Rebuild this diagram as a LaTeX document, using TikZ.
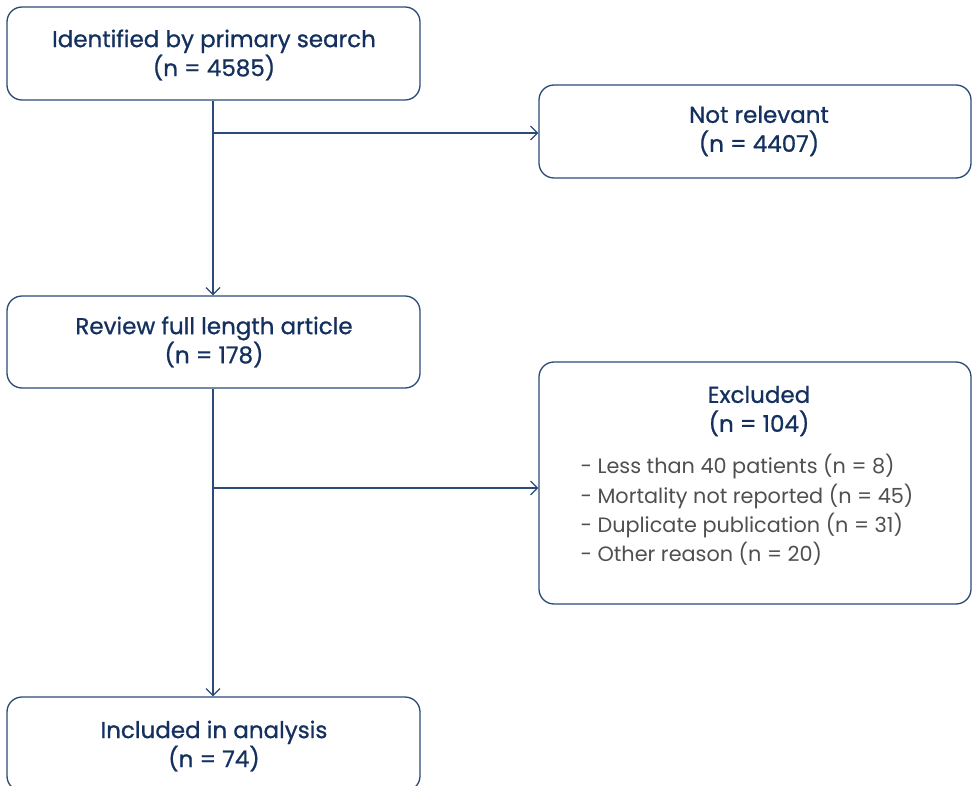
\documentclass[tikz,border=0pt]{standalone}
\usepackage{fontspec}
\setmainfont{Poppins}
\newfontfamily\titlefont[FakeBold=0.9]{Poppins}
\usetikzlibrary{arrows.meta}
\definecolor{navy}{HTML}{14305E}
\definecolor{edge}{HTML}{2A4A78}
\definecolor{listgray}{HTML}{4F4F4F}
\tikzset{
  box/.style={draw=edge, line width=1.3pt, rounded corners=15pt, inner sep=0pt},
  title/.style={text=navy, font=\titlefont\fontsize{23}{29}\selectfont, align=center},
  item/.style={text=listgray, font=\fontsize{20.8}{29.2}\selectfont, align=left, anchor=north west},
  conn/.style={draw=edge, line width=1.2pt, -{Straight Barb[length=7pt,width=14pt,line width=1.2pt]}},
}
\begin{document}
\begin{tikzpicture}[x=1pt,y=-1pt]
\useasboundingbox (0,0) rectangle (972,786);
\begin{scope}
\clip (0,0) rectangle (972,786);
\node[box, minimum width=413pt, minimum height=93pt] (b1) at (213.5,53.5) {};
\node[box, minimum width=432pt, minimum height=93pt] (b2) at (755,131.5) {};
\node[box, minimum width=413pt, minimum height=92pt] (b3) at (213.5,342) {};
\node[box, minimum width=432pt, minimum height=242pt] (b4) at (755,483) {};
\node[box, minimum width=413pt, minimum height=94pt] (b5) at (213.5,744) {};
\end{scope}
\node[title] (t1) at (214,55) {Identified by primary search\\(n = 4585)};
\node[title] (t2) at (759,131) {Not relevant\\(n = 4407)};
\node[title] (t3) at (214,342) {Review full length article\\(n = 178)};
\node[title] (t4) at (759,411) {Excluded\\(n = 104)};
\node[item] (t4l) at (577,451) {- Less than 40 patients (n = 8)\\- Mortality not reported (n = 45)\\- Duplicate publication (n = 31)\\- Other reason (n = 20)};
\node[title] (t5) at (214,746) {Included in analysis\\(n = 74)};
\coordinate (j1) at (213,133);
\coordinate (j2) at (213,488);
\draw[conn] (b1.south -| j1) -- (b3.north -| j1);
\draw[conn] (j1) -- (j1 -| b2.west);
\draw[conn] (b3.south -| j2) -- (b5.north -| j2);
\draw[conn] (j2) -- (j2 -| b4.west);
\end{tikzpicture}
\end{document}
